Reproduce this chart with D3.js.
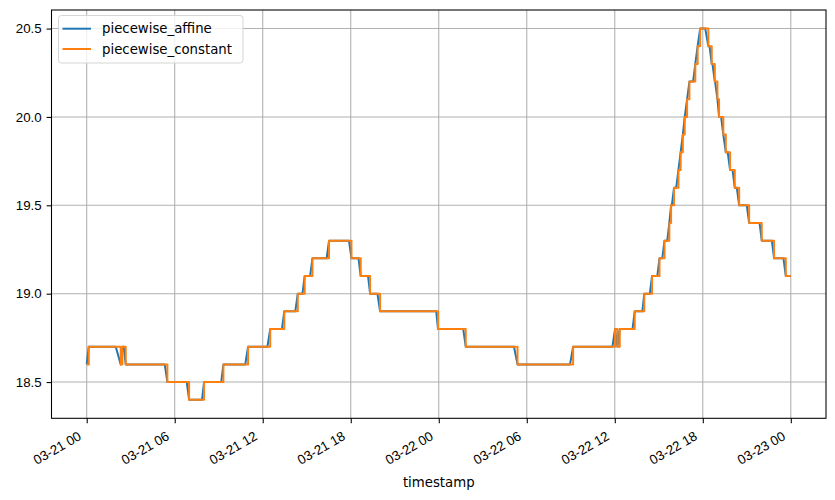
<!DOCTYPE html>
<html>
<head>
    <meta charset="utf-8">
    <script src="https://d3js.org/d3.v7.min.js"></script>
    <style type="text/css">
        body { margin: 0; background: #fff; }
        svg { font-family: "DejaVu Sans", sans-serif; }
        .grid line { stroke: #b0b0b0; stroke-width: 1.07px; }
        .axis text { font-size: 13.3px; fill: #000; }
        .axis path { display: none; }
        .axis line { stroke: #000; stroke-width: 1.07px; }
    </style>
</head>
<body>
<script type="text/javascript">
    // hours after 03-21 00:00 where each series changes level, and the new level
    var startHour = 0, startValue = 18.6, endHour = 48.0;
    var levels = [18.7, 18.6, 18.7, 18.6, 18.5, 18.4, 18.5, 18.6, 18.7, 18.8,
                  18.9, 19.0, 19.1, 19.2, 19.3, 19.2, 19.1, 19.0, 18.9, 18.8,
                  18.7, 18.6, 18.7, 18.8, 18.7, 18.8, 18.9, 19.0, 19.1, 19.2,
                  19.3, 19.4, 19.5, 19.6, 19.7, 19.8, 19.9, 20.0, 20.1, 20.2,
                  20.3, 20.4, 20.5, 20.4, 20.3, 20.2, 20.1, 20.0, 19.9, 19.8,
                  19.7, 19.6, 19.5, 19.4, 19.3, 19.2, 19.1];
    // piecewise_constant: time of the jump
    var constantHours = [0.14, 2.32, 2.43, 2.66, 5.50, 6.98, 8.00, 9.32, 11.00, 12.51,
                         13.47, 14.39, 14.86, 15.39, 16.52, 18.05, 18.68, 19.32, 20.00, 23.95,
                         25.84, 29.37, 33.16, 36.02, 36.18, 36.34, 37.36, 38.01, 38.54, 39.05,
                         39.39, 39.72, 39.84, 40.04, 40.34, 40.49, 40.64, 40.77, 40.93, 41.09,
                         41.49, 41.65, 41.82, 42.38, 42.61, 42.82, 43.00, 43.11, 43.40, 43.57,
                         43.86, 44.18, 44.48, 45.16, 46.02, 46.86, 47.66];
    // piecewise_affine: time the ramp towards the new level starts
    var affineHours = [0.00, 1.98, 2.32, 2.52, 5.32, 6.82, 7.86, 9.17, 10.81, 12.32,
                       13.31, 14.22, 14.71, 15.23, 16.36, 17.88, 18.53, 19.18, 19.82, 23.83,
                       25.67, 29.13, 32.95, 35.84, 36.02, 36.18, 37.21, 37.88, 38.39, 38.90,
                       39.24, 39.58, 39.72, 39.89, 40.19, 40.34, 40.49, 40.64, 40.77, 40.93,
                       41.34, 41.49, 41.65, 42.17, 42.46, 42.66, 42.84, 43.00, 43.25, 43.40,
                       43.70, 44.03, 44.32, 45.00, 45.87, 46.71, 47.50];
    var yTicks = [18.5, 19.0, 19.5, 20.0, 20.5];
    var seriesNames = ["piecewise_affine", "piecewise_constant"];
    var seriesColors = ["#1f77b4", "#ff7f0e"];

    var W = 835, H = 500;
    var plot = {left: 51.5, right: 826, top: 10, bottom: 418.3};
    var base = Date.UTC(2021, 2, 21);
    function toDate(h) { return new Date(base + h * 3600e3); }

    var pad = (endHour - startHour) * 0.05;
    var x = d3.scaleUtc()
        .domain([toDate(startHour - pad), toDate(endHour + pad)])
        .range([plot.left, plot.right]);
    var y = d3.scaleLinear()
        .domain([18.295, 20.605])
        .range([plot.bottom, plot.top]);

    // build the two series
    var affine = [[startHour, startValue]];
    var constant = [[startHour, startValue]];
    var prev = startValue;
    levels.forEach(function (v, i) {
        affine.push([affineHours[i], prev]);
        affine.push([constantHours[i], v]);
        constant.push([constantHours[i], v]);
        prev = v;
    });
    affine.push([endHour, prev]);
    constant.push([endHour, prev]);

    var svg = d3.select("body").append("svg").attr("width", W).attr("height", H);

    var xTicks = x.ticks(d3.utcHour.every(6));
    var fmt = d3.utcFormat("%m-%d %H");

    // grid
    var grid = svg.append("g").attr("class", "grid");
    grid.selectAll(".gx").data(xTicks).enter().append("line")
        .attr("x1", function (d) { return x(d); }).attr("x2", function (d) { return x(d); })
        .attr("y1", plot.top).attr("y2", plot.bottom);
    grid.selectAll(".gy").data(yTicks).enter().append("line")
        .attr("x1", plot.left).attr("x2", plot.right)
        .attr("y1", function (d) { return y(d); }).attr("y2", function (d) { return y(d); });

    // lines
    var line = d3.line()
        .x(function (d) { return x(toDate(d[0])); })
        .y(function (d) { return y(d[1]); });
    svg.append("path").datum(affine)
        .attr("fill", "none").attr("stroke", seriesColors[0]).attr("stroke-width", 2)
        .attr("stroke-linejoin", "round")
        .attr("d", line);
    svg.append("path").datum(constant)
        .attr("fill", "none").attr("stroke", seriesColors[1]).attr("stroke-width", 2)
        .attr("stroke-linejoin", "round")
        .attr("d", line.curve(d3.curveStepAfter));

    // axes
    var xAxis = svg.append("g").attr("class", "axis")
        .attr("transform", "translate(0," + plot.bottom + ")")
        .call(d3.axisBottom(x).tickValues(xTicks).tickFormat(fmt).tickSize(4.9).tickPadding(4.9));
    xAxis.selectAll("text")
        .attr("x", 0).attr("y", 0).attr("dy", 0)
        .attr("transform", "translate(-5,20.5) rotate(-30)")
        .style("text-anchor", "end");

    svg.append("g").attr("class", "axis")
        .attr("transform", "translate(" + plot.left + ",0)")
        .call(d3.axisLeft(y).tickValues(yTicks).tickFormat(d3.format(".1f")).tickSize(4.9).tickPadding(4.9));

    // frame
    svg.append("rect")
        .attr("x", plot.left).attr("y", plot.top)
        .attr("width", plot.right - plot.left).attr("height", plot.bottom - plot.top)
        .attr("fill", "none").attr("stroke", "#000").attr("stroke-width", 1.07);

    svg.append("text")
        .attr("x", (plot.left + plot.right) / 2).attr("y", 487)
        .attr("text-anchor", "middle").style("font-size", "13.3px")
        .text("timestamp");

    // legend
    var legend = svg.append("g").attr("transform", "translate(58.5,15.5)");
    legend.append("rect")
        .attr("width", 184.5).attr("height", 47.5).attr("rx", 3)
        .attr("fill", "#fff").attr("fill-opacity", 0.8)
        .attr("stroke", "#d5d5d5").attr("stroke-width", 1);
    var item = legend.selectAll(".item").data(seriesNames).enter().append("g")
        .attr("transform", function (d, i) { return "translate(0," + (13.2 + i * 20.3) + ")"; });
    item.append("line")
        .attr("x1", 4).attr("x2", 32.5)
        .attr("stroke", function (d, i) { return seriesColors[i]; })
        .attr("stroke-width", 2);
    item.append("text")
        .attr("x", 43.5).attr("dy", "0.35em")
        .style("font-size", "13.3px")
        .text(function (d) { return d; });
</script>
</body>
</html>
